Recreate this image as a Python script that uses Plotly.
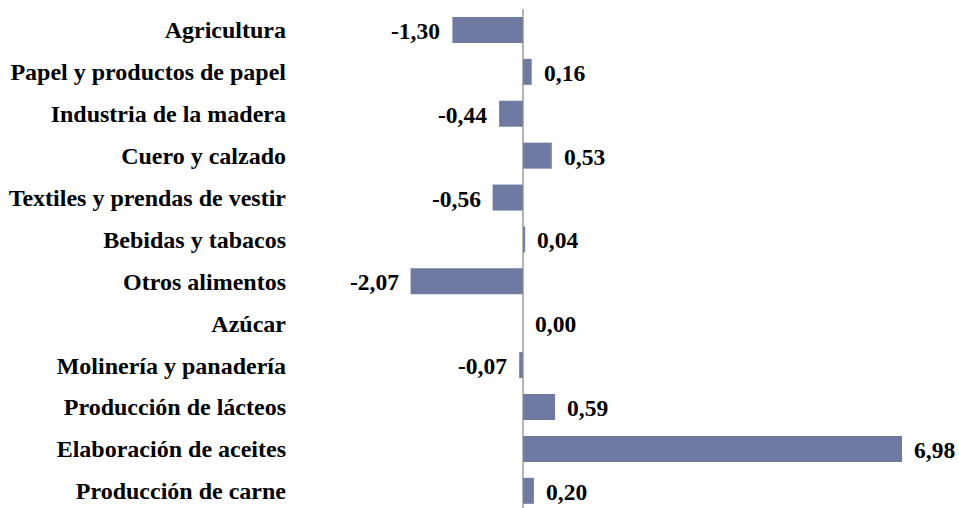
import plotly.graph_objects as go

categories = ["Agricultura", "Papel y productos de papel", "Industria de la madera",
              "Cuero y calzado", "Textiles y prendas de vestir", "Bebidas y tabacos",
              "Otros alimentos", "Azúcar", "Molinería y panadería", "Producción de lácteos",
              "Elaboración de aceites", "Producción de carne"]
values = [-1.30, 0.16, -0.44, 0.53, -0.56, 0.04, -2.07, 0.00, -0.07, 0.59, 6.98, 0.20]
labels = [f"{v:.2f}".replace(".", ",") for v in values]

FONT = "Liberation Serif"
BAR = "#6f7aa2"

fig = go.Figure()
fig.add_trace(go.Bar(
    y=categories, x=values, orientation="h",
    marker=dict(color=BAR, line=dict(width=0)),
    width=0.62, hoverinfo="skip",
))

for c, v, t in zip(categories, values, labels):
    fig.add_annotation(
        x=v, y=c, xref="x", yref="y", text=f"<b>{t}</b>", showarrow=False,
        xanchor="right" if v < 0 else "left",
        xshift=-10 if v < 0 else 10,
        yshift=-1,
        font=dict(family=FONT, size=23.5, color="black"),
    )

fig.add_shape(type="line", x0=0, x1=0, y0=-0.5, y1=11.6, xref="x", yref="y",
              line=dict(color="#8c8c8c", width=1.3), layer="above")

fig.update_layout(
    width=959, height=508,
    margin=dict(l=296, r=9, t=9, b=0),
    paper_bgcolor="white", plot_bgcolor="white",
    showlegend=False,
    font=dict(family=FONT, size=24, color="black"),
    xaxis=dict(range=[-(523 - 296) / 54.3, (950 - 523) / 54.3], visible=False,
               showgrid=False, zeroline=False),
    yaxis=dict(categoryorder="array", categoryarray=categories,
               range=[11.41, -0.5], showgrid=False, zeroline=False, showline=False,
               ticks="", tickprefix="<b>", ticksuffix="</b>",
               tickfont=dict(family=FONT, size=24, color="black"),
               ticklabelstandoff=9),
)

fig.write_html(
    "out.html",
    config={"displayModeBar": False},
    post_script="document.body.style.margin='0';document.body.style.overflow='hidden';",
)
